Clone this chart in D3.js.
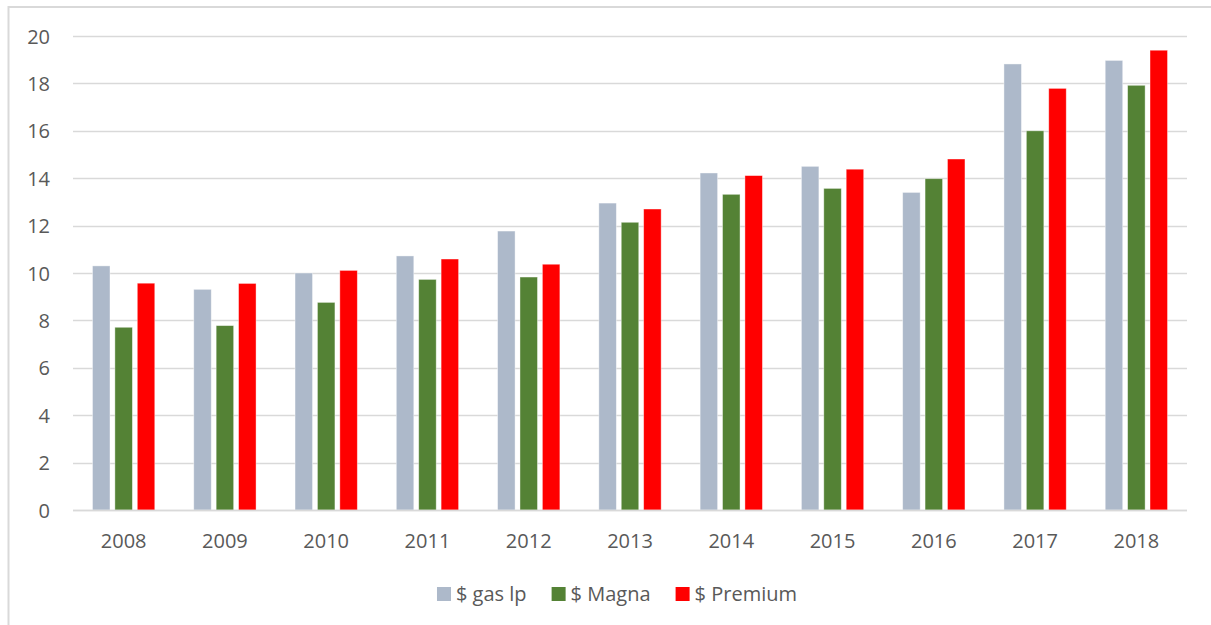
<!DOCTYPE html>
<html>
<head>
<meta charset="utf-8">
<script src="https://cdn.jsdelivr.net/npm/d3@7"></script>
<style>
  html, body { margin: 0; padding: 0; background: #ffffff; }
  svg { display: block; }
  text { font-family: "Open Sans", "Lato", sans-serif; fill: #595959; }
</style>
</head>
<body>
<svg id="chart" width="1211" height="625"></svg>
<script>
const years = ["2008","2009","2010","2011","2012","2013","2014","2015","2016","2017","2018"];
const seriesNames = ["$ gas lp", "$ Magna", "$ Premium"];
const gasLp   = [10.30, 9.31, 10.00, 10.72, 11.77, 12.95, 14.22, 14.50, 13.40, 18.82, 18.97];
const magna   = [7.71, 7.78, 8.76, 9.73, 9.83, 12.14, 13.32, 13.57, 13.98, 16.00, 17.92];
const premium = [9.57, 9.56, 10.11, 10.59, 10.37, 12.70, 14.11, 14.38, 14.81, 17.79, 19.40];
const yTicks = [0, 2, 4, 6, 8, 10, 12, 14, 16, 18, 20];
const colors = ["#adb9ca", "#548235", "#ff0000"];

const series = [gasLp, magna, premium];

const svg = d3.select("#chart");

// chart frame
svg.append("rect")
  .attr("x", 8.5).attr("y", 7)
  .attr("width", 1240).attr("height", 640)
  .attr("fill", "none")
  .attr("stroke", "#d9d9d9")
  .attr("stroke-width", 2);

const x = d3.scaleBand().domain(years).range([73, 1187]).paddingInner(0).paddingOuter(0);
const y = d3.scaleLinear().domain([0, 20]).range([510, 36]);

const barW = 17.5;
const pitch = 22.4;

// gridlines
const grid = svg.append("g");
grid.selectAll("line")
  .data(yTicks)
  .join("line")
  .attr("x1", 73).attr("x2", 1187)
  .attr("y1", d => Math.round(y(d)) + 0.5)
  .attr("y2", d => Math.round(y(d)) + 0.5)
  .attr("stroke", "#d9d9d9")
  .attr("stroke-width", 1.3);

// y axis labels
const yAxis = d3.axisLeft(y).tickValues(yTicks).tickSize(0).tickPadding(0);
const yG = svg.append("g").attr("transform", "translate(50,0)").call(yAxis);
yG.select(".domain").remove();
yG.selectAll("text")
  .attr("font-size", 20)
  .attr("fill", "#595959")
  .style("font-family", '"Open Sans", sans-serif')
  .attr("dy", "0.35em");

// bars
const groups = svg.append("g").selectAll("g")
  .data(years)
  .join("g")
  .attr("transform", d => `translate(${x(d) + x.bandwidth() / 2},0)`);

series.forEach((vals, si) => {
  groups.append("rect")
    .attr("x", (d, i) => (si - 1) * pitch - barW / 2)
    .attr("y", (d, i) => y(vals[i]))
    .attr("width", barW)
    .attr("height", (d, i) => y(0) - y(vals[i]))
    .attr("fill", colors[si])
    .attr("stroke", "#ffffff")
    .attr("stroke-opacity", 0.5)
    .attr("stroke-width", 0.8);
});

// baseline
svg.append("line")
  .attr("x1", 73).attr("x2", 1187)
  .attr("y1", Math.round(y(0)) + 0.5).attr("y2", Math.round(y(0)) + 0.5)
  .attr("stroke", "#d9d9d9")
  .attr("stroke-width", 1.5);

// x axis labels
const xAxis = d3.axisBottom(x).tickSize(0).tickPadding(0);
const xG = svg.append("g").attr("transform", "translate(0,541)").call(xAxis);
xG.select(".domain").remove();
xG.selectAll("text")
  .attr("font-size", 20)
  .attr("fill", "#595959")
  .style("font-family", '"Open Sans", sans-serif')
  .attr("dy", "0.35em");

// legend
const legend = svg.append("g");
const items = legend.selectAll("g").data(seriesNames).join("g");
items.append("rect")
  .attr("width", 14).attr("height", 14)
  .attr("y", 587)
  .attr("fill", (d, i) => colors[i]);
items.append("text")
  .attr("x", 19)
  .attr("y", 594)
  .attr("dy", "0.35em")
  .attr("font-size", 20)
  .text(d => d);
let cx = 0;
const widths = [];
items.each(function() {
  const w = 19 + this.querySelector("text").getComputedTextLength();
  widths.push(w);
});
const gap = 25;
const total = d3.sum(widths) + gap * (widths.length - 1);
let start = 617 - total / 2;
items.attr("transform", (d, i) => {
  const t = `translate(${start},0)`;
  start += widths[i] + gap;
  return t;
});
</script>
</body>
</html>
